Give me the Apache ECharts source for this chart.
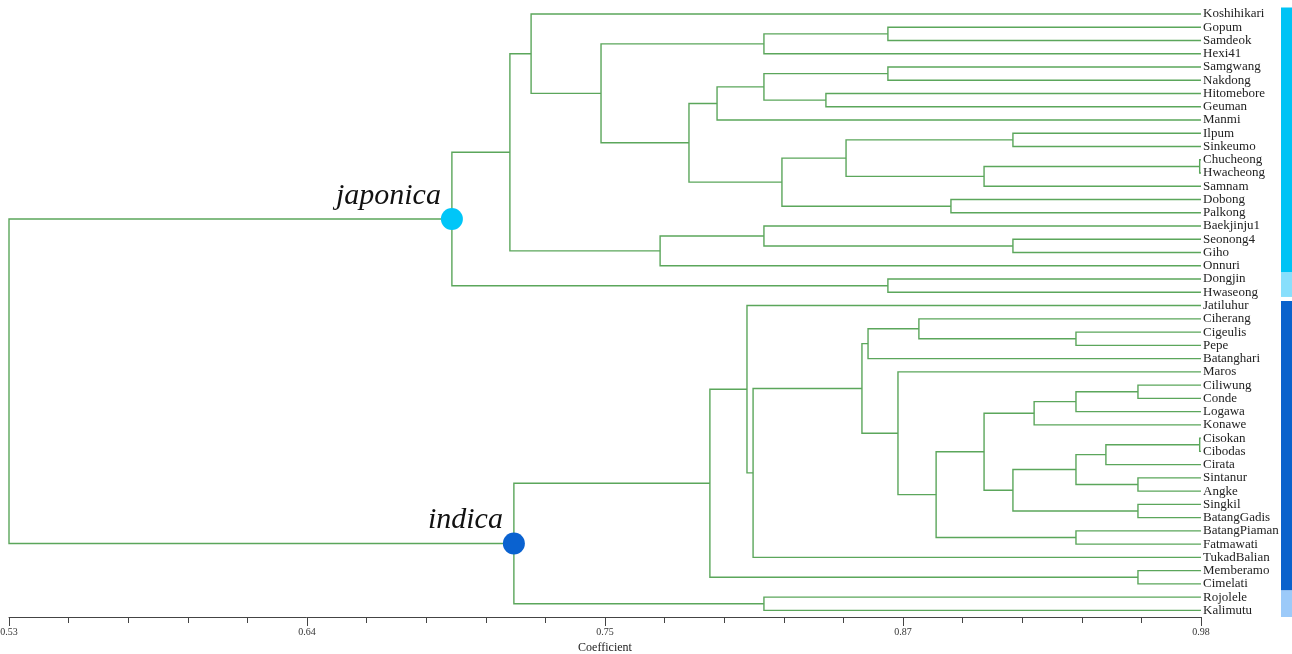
<!DOCTYPE html>
<html><head><meta charset="utf-8">
<script src="https://cdn.jsdelivr.net/npm/echarts@6/dist/echarts.min.js"></script>
<style>html,body{margin:0;padding:0;background:#fff}#c{width:1292px;height:654px}</style>
</head><body><div id="c"></div>
<script>
// ---------- data ----------
const leaves = ['Koshihikari','Gopum','Samdeok','Hexi41','Samgwang','Nakdong','Hitomebore','Geuman','Manmi',
  'Ilpum','Sinkeumo','Chucheong','Hwacheong','Samnam','Dobong','Palkong','Baekjinju1','Seonong4','Giho','Onnuri',
  'Dongjin','Hwaseong','Jatiluhur','Ciherang','Cigeulis','Pepe','Batanghari','Maros','Ciliwung','Conde','Logawa',
  'Konawe','Cisokan','Cibodas','Cirata','Sintanur','Angke','Singkil','BatangGadis','BatangPiaman','Fatmawati',
  'TukadBalian','Memberamo','Cimelati','Rojolele','Kalimutu'];

// merges: [childA, childB, coefficient]; 'mN' refers to the N-th merge
const merges = [
  ['Gopum','Samdeok',0.8618],      // m0
  ['m0','Hexi41',0.8150],          // m1
  ['Samgwang','Nakdong',0.8618],   // m2
  ['Hitomebore','Geuman',0.8384],  // m3
  ['m2','m3',0.8150],              // m4
  ['m4','Manmi',0.7973],           // m5
  ['Ilpum','Sinkeumo',0.9090],     // m6
  ['Chucheong','Hwacheong',0.9795],// m7
  ['m7','Samnam',0.8981],          // m8
  ['m6','m8',0.8460],              // m9
  ['Dobong','Palkong',0.8856],     // m10
  ['m9','m10',0.8218],             // m11
  ['m5','m11',0.7867],             // m12
  ['m1','m12',0.7535],             // m13
  ['Koshihikari','m13',0.7271],    // m14
  ['Seonong4','Giho',0.9090],      // m15
  ['Baekjinju1','m15',0.8150],     // m16
  ['m16','Onnuri',0.7758],         // m17
  ['m14','m17',0.7191],            // m18
  ['Dongjin','Hwaseong',0.8618],   // m19
  ['m18','m19',0.6972],            // m20 japonica
  ['Cigeulis','Pepe',0.9328],      // m21
  ['Ciherang','m21',0.8735],       // m22
  ['m22','Batanghari',0.8543],     // m23
  ['Ciliwung','Conde',0.9562],     // m24
  ['m24','Logawa',0.9328],         // m25
  ['m25','Konawe',0.9170],         // m26
  ['Cisokan','Cibodas',0.9795],    // m27
  ['m27','Cirata',0.9441],         // m28
  ['Sintanur','Angke',0.9562],     // m29
  ['m28','m29',0.9328],            // m30
  ['Singkil','BatangGadis',0.9562],// m31
  ['m30','m31',0.9090],            // m32
  ['m26','m32',0.8981],            // m33
  ['BatangPiaman','Fatmawati',0.9328], // m34
  ['m33','m34',0.8800],            // m35
  ['Maros','m35',0.8656],          // m36
  ['m23','m36',0.8520],            // m37
  ['m37','TukadBalian',0.8109],    // m38
  ['Jatiluhur','m38',0.8086],      // m39
  ['Memberamo','Cimelati',0.9562], // m40
  ['m39','m40',0.7946],            // m41
  ['Rojolele','Kalimutu',0.8150],  // m42
  ['m41','m42',0.7206],            // m43 indica
  ['m20','m43',0.53]               // m44 root
];

const groupNames = ['japonica','indica'];
const groupNodes = ['m20','m43'];

// colour bands at right: [firstLeaf, lastLeaf, group]
const bandStart = [0, 20, 22, 44];
const bandEnd   = [19, 21, 43, 45];
const bandGroup = [0, 0, 1, 1];

const tickValues = [0.53, 0.6425, 0.755, 0.8675, 0.98];
const tickLabels = ['0.53', '0.64', '0.75', '0.87', '0.98'];
const leafEnd = 0.98;

// ---------- styles ----------
const lineColor = '#5ba65b';
const bandColors = ['#00c3f5', '#88dffc', '#0a62cc', '#9ccaf9'];
const groupColors = ['#00c6f8', '#0a62d0'];

// ---------- build tree geometry ----------
const pos = {};
leaves.forEach((n, i) => { pos[n] = { x: leafEnd, y: i }; });
const segs = [];
merges.forEach((m, i) => {
  const a = pos[m[0]], b = pos[m[1]];
  const node = { x: m[2], y: (a.y + b.y) / 2 };
  pos['m' + i] = node;
  segs.push([m[2], a.y, b.y, a.x, b.x]);
});
const markers = groupNodes.map((id, k) => ({ value: [pos[id].x, pos[id].y], name: groupNames[k], itemStyle: { color: groupColors[k], opacity: 1 } }));

const minorValues = [];
for (let k = 0; k < tickValues.length - 1; k++) {
  for (let j = 1; j < 5; j++) minorValues.push(tickValues[k] + (tickValues[k + 1] - tickValues[k]) * j / 5);
}

const gridBox = { left: 9, right: 91, top: 7.4, bottom: 37, containLabel: false, outerBoundsMode: 'none' };

const chart = echarts.init(document.getElementById('c'), null, { renderer: 'canvas' });
chart.setOption({
  animation: false,
  backgroundColor: '#fff',
  grid: [Object.assign({}, gridBox), Object.assign({}, gridBox)],
  xAxis: [{
    gridIndex: 0, type: 'value', min: 0.53, max: 0.98, position: 'bottom',
    name: 'Coefficient', nameLocation: 'middle', nameGap: 25,
    nameTextStyle: { fontFamily: 'Liberation Serif', fontSize: 12, color: '#222' },
    axisLine: { show: true, onZero: false, lineStyle: { color: '#444', width: 1 } },
    axisTick: { show: true, length: 9, customValues: tickValues, lineStyle: { color: '#444' } },
    axisLabel: { customValues: tickValues, margin: 10, fontFamily: 'Liberation Serif', fontSize: 10, color: '#333',
      formatter: v => { const i = tickValues.findIndex(t => Math.abs(t - v) < 1e-6); return i >= 0 ? tickLabels[i] : ''; } },
    splitLine: { show: false }
  }, {
    gridIndex: 1, type: 'value', min: 0.53, max: 0.98, position: 'bottom',
    axisLine: { show: false, onZero: false },
    axisTick: { show: true, length: 6, customValues: minorValues, lineStyle: { color: '#444' } },
    axisLabel: { show: false },
    splitLine: { show: false }
  }],
  yAxis: [{
    gridIndex: 0, type: 'value', min: -0.5, max: 45.5, inverse: true, show: false
  }, {
    gridIndex: 0, type: 'category', data: leaves, inverse: true, position: 'right',
    axisLine: { show: false }, axisTick: { show: false }, splitLine: { show: false },
    axisLabel: { interval: 0, margin: 2, fontFamily: 'Liberation Serif', fontSize: 13, color: '#222' }
  }, {
    gridIndex: 1, type: 'value', min: 0, max: 1, show: false
  }],
  series: [{
    type: 'custom', xAxisIndex: 0, yAxisIndex: 0, clip: false,
    encode: { x: [0, 3, 4], y: [1, 2] },
    data: segs,
    renderItem: (params, api) => {
      const c = api.value(0), y1 = api.value(1), y2 = api.value(2), x1 = api.value(3), x2 = api.value(4);
      return {
        type: 'polyline',
        shape: { points: [api.coord([x1, y1]), api.coord([c, y1]), api.coord([c, y2]), api.coord([x2, y2])] },
        style: { stroke: lineColor, lineWidth: 1.4, fill: null }
      };
    }
  }, {
    type: 'custom', xAxisIndex: 0, yAxisIndex: 0, clip: false,
    encode: { y: [0, 1] },
    data: bandStart.map((s, i) => [s, bandEnd[i], bandGroup[i], i]),
    renderItem: (params, api) => {
      const i = params.dataIndex;
      const s = api.value(0), e = api.value(1), g = api.value(2);
      const right = api.coord([0.98, 0])[0];
      let top = api.coord([0.98, s - 0.5])[1];
      let bot = api.coord([0.98, e + 0.5])[1];
      if (i > 0 && bandGroup[i - 1] !== g) top += 2;
      if (i < bandStart.length - 1 && bandGroup[i + 1] !== g) bot -= 2;
      return { type: 'rect', shape: { x: right + 80, y: top, width: 14, height: bot - top }, style: { fill: bandColors[i] } };
    }
  }, {
    type: 'scatter', xAxisIndex: 0, yAxisIndex: 0, symbol: 'circle', symbolSize: 22, z: 5,
    itemStyle: { opacity: 1 },
    data: markers,
    label: { show: true, position: 'left', distance: 0, offset: [0, -23], formatter: p => p.name,
      fontFamily: 'Liberation Serif', fontStyle: 'italic', fontSize: 30, color: '#111' }
  }]
});
</script></body></html>
